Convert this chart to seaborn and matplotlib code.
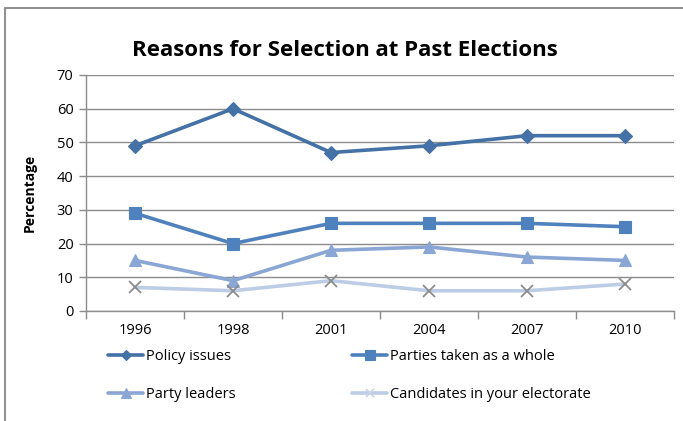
import matplotlib
matplotlib.use("Agg")
import matplotlib.pyplot as plt
from matplotlib.lines import Line2D
from matplotlib.patches import Rectangle
import seaborn as sns
import pandas as pd

years = ["1996", "1998", "2001", "2004", "2007", "2010"]
policy_issues = [49, 60, 47, 49, 52, 52]
parties_whole = [29, 20, 26, 26, 26, 25]
party_leaders = [15, 9, 18, 19, 16, 15]
candidates = [7, 6, 9, 6, 6, 8]

series_names = ["Policy issues", "Parties taken as a whole",
                "Party leaders", "Candidates in your electorate"]
series_values = [policy_issues, parties_whole, party_leaders, candidates]
colors = ["#4471a6", "#4f81bd", "#8aa6d4", "#bccde5"]
markers = ["D", "s", "^", "x"]
msizes = [7, 8.5, 9, 8]

sns.set_theme(style="white")
plt.rcParams["font.family"] = ["Open Sans", "DejaVu Sans"]
plt.rcParams["text.color"] = "black"
plt.rcParams["axes.labelcolor"] = "black"
plt.rcParams["xtick.labelcolor"] = "black"
plt.rcParams["ytick.labelcolor"] = "black"

fig = plt.figure(figsize=(6.83, 4.21), dpi=100)
fig.patches.append(Rectangle((5 / 683, -0.1), 2, 1.1 - 8 / 421, transform=fig.transFigure,
                             fill=False, edgecolor="#7a7a7a", linewidth=1.2))
ax = fig.add_axes([86 / 683, 1 - 311 / 421, 588 / 683, 236 / 421])

rows = []
for name, vals in zip(series_names, series_values):
    for i, v in enumerate(vals):
        rows.append({"series": name, "pos": i, "value": v})
df = pd.DataFrame(rows)

handles = {}
for name, col, mk, ms in zip(series_names, colors, markers, msizes):
    sub = df[df["series"] == name]
    mec = "#8c8c8c" if mk == "x" else col
    mew = 1.3 if mk == "x" else 0.8
    sns.lineplot(data=sub, x="pos", y="value", ax=ax, color=col, linewidth=2.6,
                 marker=mk, markersize=ms, markeredgecolor=mec,
                 markeredgewidth=mew, legend=False, zorder=3)
    handles[name] = Line2D([], [], color=col, linewidth=2.6, marker=mk, markersize=ms * 0.8,
                           markeredgecolor=col if mk != "x" else "#c8d4e6",
                           markeredgewidth=mew)

ax.set_xlim(-0.5, len(years) - 0.5)
ax.set_ylim(0, 70)
ax.set_yticks(range(0, 71, 10))
ax.set_xticks(range(len(years)))
ax.set_xticklabels(years)
ax.set_xticks([i - 0.5 for i in range(len(years) + 1)], minor=True)
ax.tick_params(axis="x", which="major", length=0, pad=9, labelsize=10.5, labelcolor="black")
ax.tick_params(axis="x", which="minor", length=6, width=1, color="#8c8c8c", bottom=True)
ax.tick_params(axis="y", which="major", length=5, width=1, color="#8c8c8c", left=True,
               labelsize=10.5, pad=4, labelcolor="black")
ax.grid(axis="y", color="#8c8c8c", linewidth=1)
ax.set_axisbelow(True)
for s in ["top", "right"]:
    ax.spines[s].set_visible(False)
for s in ["left", "bottom"]:
    ax.spines[s].set_color("#8c8c8c")
    ax.spines[s].set_linewidth(1)
ax.set_xlabel("")
ax.set_ylabel("Percentage", fontsize=10, fontweight="bold", labelpad=14, color="black")

fig.text(345 / 683, 1 - 50 / 421, "Reasons for Selection at Past Elections",
         ha="center", va="center", fontsize=16, fontweight="bold", color="black")

# legend fills column-wise, so order entries to read row by row
legend_order = ["Policy issues", "Party leaders",
                "Parties taken as a whole", "Candidates in your electorate"]
fig.legend([handles[n] for n in legend_order], legend_order, loc="upper left",
           bbox_to_anchor=(108 / 683, 1 - 349 / 421),
           ncol=2, frameon=False, fontsize=10.5, handlelength=2.4, handletextpad=0.2,
           columnspacing=8.0, labelspacing=1.6, borderaxespad=0, borderpad=0,
           labelcolor="black")

fig.savefig("out.png", dpi=100)
